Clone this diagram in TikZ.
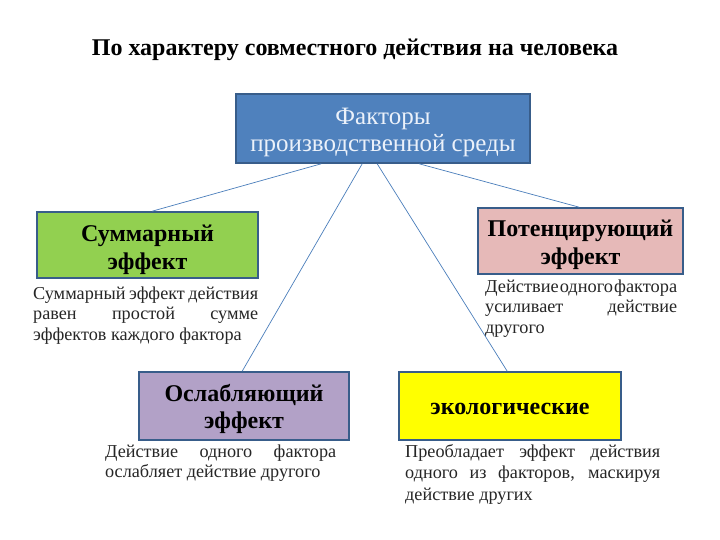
\documentclass[tikz,border=0pt]{standalone}
\usepackage{fontspec}
\usepackage{graphicx}
\setmainfont{Liberation Serif}
\definecolor{topfill}{RGB}{79,129,189}
\definecolor{boxline}{RGB}{56,93,138}
\definecolor{greenfill}{RGB}{146,208,80}
\definecolor{pinkfill}{RGB}{230,185,184}
\definecolor{purplefill}{RGB}{178,161,199}
\definecolor{yellowfill}{RGB}{255,255,0}
\definecolor{linkcol}{RGB}{74,126,187}
\definecolor{toptext}{RGB}{235,241,250}
\newcommand{\jl}[2]{\makebox[#1][s]{#2}}
\tikzset{
  box/.style={draw=boxline, line width=1.6pt, inner sep=0pt},
  boxtext/.style={align=center, inner sep=0pt,
    font=\fontsize{24}{27.5}\selectfont\bfseries},
  desc/.style={anchor=base west, inner sep=0pt,
    font=\fontsize{18.2}{20.5}\selectfont, text=black!85},
  link/.style={draw=linkcol, line width=0.7pt}
}
\begin{document}
\begin{tikzpicture}[x=1pt,y=-1pt]
\fill[white] (0,0) rectangle (720,540);
\useasboundingbox (0,0) rectangle (720,540);
\node[font=\fontsize{24}{28}\selectfont\bfseries] (title) at (355,50) {По характеру совместного действия на человека};
\node[box, fill=topfill, minimum width=294pt, minimum height=69pt] (top) at (383,128.5) {};
\node[boxtext, text=toptext, font=\fontsize{25}{27}\selectfont] (toplabel) at ([yshift=-4pt]top.center) {Факторы\\производственной среды};
\node[box, fill=greenfill, minimum width=221pt, minimum height=66pt] (green) at (147.5,245) {};
\node[boxtext] (greenlabel) at ([yshift=-5pt]green.center) {Суммарный\\эффект};
\node[box, fill=pinkfill, minimum width=205pt, minimum height=66pt] (pink) at (580.5,241) {};
\node[boxtext] (pinklabel) at ([yshift=-4pt]pink.center) {Потенцирующий\\эффект};
\node[box, fill=purplefill, minimum width=210pt, minimum height=68pt] (purple) at (244,406) {};
\node[boxtext] (purplelabel) at ([yshift=-3pt]purple.center) {Ослабляющий\\эффект};
\node[box, fill=yellowfill, minimum width=222pt, minimum height=68pt] (yellow) at (510,406) {};
\node[boxtext] (yellowlabel) at ([yshift=-3pt]yellow.center) {экологические};
\node[desc] (gdesc) at (33,299) {\parbox[t]{225pt}{\jl{225pt}{Суммарный эффект действия}\\\jl{225pt}{равен простой сумме}\\эффектов каждого фактора}};
\node[desc] (pdesc) at (485,292) {\parbox[t]{192pt}{\resizebox{192pt}{\height}{Действие\kern1pt одного\kern1pt фактора}\\\jl{192pt}{усиливает действие}\\другого}};
\node[desc] (udesc) at (105,457) {\parbox[t]{231pt}{\jl{231pt}{Действие одного фактора}\\ослабляет действие другого}};
\node[desc, font=\fontsize{18.2}{21.5}\selectfont] (ydesc) at (405,457) {\parbox[t]{255pt}{\jl{255pt}{Преобладает эффект действия}\\\jl{255pt}{одного из факторов, маскируя}\\действие других}};
\draw[link] ([xshift=86pt]top.south west) -- ([xshift=116pt]green.north west);
\draw[link] ([xshift=184pt]top.south west) -- ([xshift=102pt]pink.north west);
\draw[link] ([xshift=127pt]top.south west) -- ([xshift=104pt]purple.north west);
\draw[link] ([xshift=142pt]top.south west) -- ([xshift=109pt]yellow.north west);
\end{tikzpicture}
\end{document}
